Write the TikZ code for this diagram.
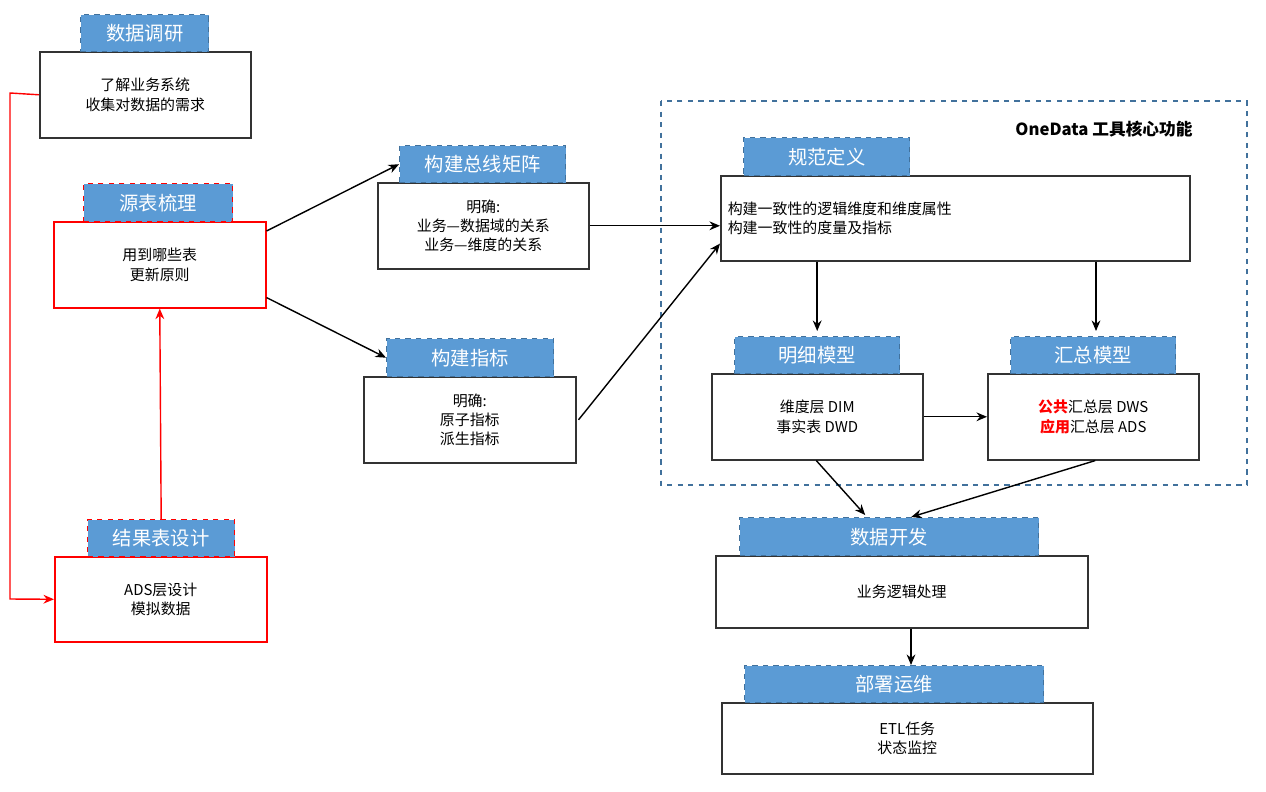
\documentclass[tikz,border=0pt]{standalone}
\usepackage{fontspec}
\setmainfont{Noto Sans CJK SC}
\usetikzlibrary{arrows.meta}
\definecolor{lblue}{HTML}{5B9BD5}
\definecolor{dblue}{HTML}{41719C}
\begin{document}
\begin{tikzpicture}[x=0.02cm,y=-0.02cm,
 lbl/.style={fill=lblue,draw=dblue,dashed,line width=0.8pt,text=white,font=\fontsize{11}{13}\selectfont,inner sep=0pt},
 lblr/.style={lbl,draw=red},
 body/.style={draw=black!80,line width=0.9pt,fill=white,font=\fontsize{8.5}{11}\selectfont,align=center,inner sep=0pt},
 bodyr/.style={body,draw=red},
 arr/.style={-{Stealth[length=6pt,width=5pt]},line width=0.8pt}]
\useasboundingbox (0,0) rectangle (1266,791);
\newcommand{\bx}[6]{\node[#1,minimum width=(#4-#2)*0.02cm,minimum height=(#5-#3)*0.02cm,anchor=north west] (#6) at (#2,#3) {};}
% big dashed
\draw[dblue,dashed,line width=0.9pt] (661,101) rectangle (1247,485);
\node[font=\bfseries\fontsize{9.5}{11}\selectfont] (od) at (1104,129) {OneData 工具核心功能};
% boxes
\node[body,minimum width=4.22cm,minimum height=1.72cm,anchor=north west] (b1) at (39,51) {了解业务系统\\收集对数据的需求};
\node[lbl,minimum width=2.56cm,minimum height=0.74cm,anchor=north west] (l1) at (80,14) {数据调研};
\node[bodyr,minimum width=4.24cm,minimum height=1.72cm,anchor=north west] (b2) at (53,221) {用到哪些表\\更新原则};
\node[lblr,minimum width=2.98cm,minimum height=0.76cm,anchor=north west] (l2) at (83,183) {源表梳理};
\node[bodyr,minimum width=4.24cm,minimum height=1.7cm,anchor=north west] (b3) at (54,556) {ADS层设计\\模拟数据};
\node[lblr,minimum width=2.94cm,minimum height=0.74cm,anchor=north west] (l3) at (87,519) {结果表设计};
\node[body,minimum width=4.22cm,minimum height=1.72cm,anchor=north west] (b4) at (377,182) {明确:\\业务—数据域的关系\\业务—维度的关系};
\node[lbl,minimum width=3.32cm,minimum height=0.74cm,anchor=north west] (l4) at (399,145) {构建总线矩阵};
\node[body,minimum width=4.24cm,minimum height=1.72cm,anchor=north west] (b5) at (363,376) {明确:\\原子指标\\派生指标};
\node[lbl,minimum width=3.34cm,minimum height=0.76cm,anchor=north west] (l5) at (386,338) {构建指标};
\node[body,minimum width=9.38cm,minimum height=1.7cm,anchor=north west,align=left,text width=9.1cm] (b6) at (720,175) {构建一致性的逻辑维度和维度属性\\构建一致性的度量及指标};
\node[lbl,minimum width=3.32cm,minimum height=0.76cm,anchor=north west] (l6) at (743,137) {规范定义};
\node[body,minimum width=4.22cm,minimum height=1.72cm,anchor=north west] (b7) at (711,373) {维度层 DIM\\事实表 DWD};
\node[lbl,minimum width=3.3cm,minimum height=0.74cm,anchor=north west] (l7) at (734,336) {明细模型};
\node[body,minimum width=4.22cm,minimum height=1.72cm,anchor=north west] (b8) at (987,373) {\textcolor{red}{\bfseries 公共}汇总层 DWS\\\textcolor{red}{\bfseries 应用}汇总层 ADS};
\node[lbl,minimum width=3.3cm,minimum height=0.74cm,anchor=north west] (l8) at (1010,336) {汇总模型};
\node[body,minimum width=7.44cm,minimum height=1.44cm,anchor=north west] (b9) at (715,555) {业务逻辑处理};
\node[lbl,minimum width=5.98cm,minimum height=0.76cm,anchor=north west] (l9) at (739,517) {数据开发};
\node[body,minimum width=7.42cm,minimum height=1.42cm,anchor=north west] (b10) at (721,702) {ETL任务\\状态监控};
\node[lbl,minimum width=5.98cm,minimum height=0.74cm,anchor=north west] (l10) at (744,665) {部署运维};
% red connectors
\coordinate (r1) at (10,93);
\coordinate (r2) at (10,599);
\draw[red,line width=0.8pt,-{Stealth[length=6pt,width=5pt]}] (b1.west) -- (r1) -- (r2) -- (b3.west);
\draw[red,arr] (l3.north) -- (b2.south);
% black connectors
\draw[arr] ([yshift=-0.2cm]b2.north east) -- (l4.west);
\draw[arr] ([yshift=0.22cm]b2.south east) -- (l5.west);
\draw[arr] (b4.east) -- (b4.east -| b6.west);
\draw[arr] ([xshift=0.04cm]b5.east) -- ([yshift=0.36cm]b6.south west);
\draw[arr] (b6.south -| l7.north) -- ([yshift=0.1cm]l7.north);
\draw[arr] (b6.south -| 1096,0) -- ([yshift=0.1cm]1096,336);
\draw[arr] (b7.east) -- (b8.west);
\draw[arr] ([xshift=-0.02cm]b7.south) -- ([xshift=-0.48cm,yshift=0.04cm]l9.north);
\draw[arr] ([xshift=0.04cm]b8.south) -- ([xshift=0.44cm]l9.north);
\draw[arr] (b9.south -| 911,0) -- (911,665);
\end{tikzpicture}
\end{document}
